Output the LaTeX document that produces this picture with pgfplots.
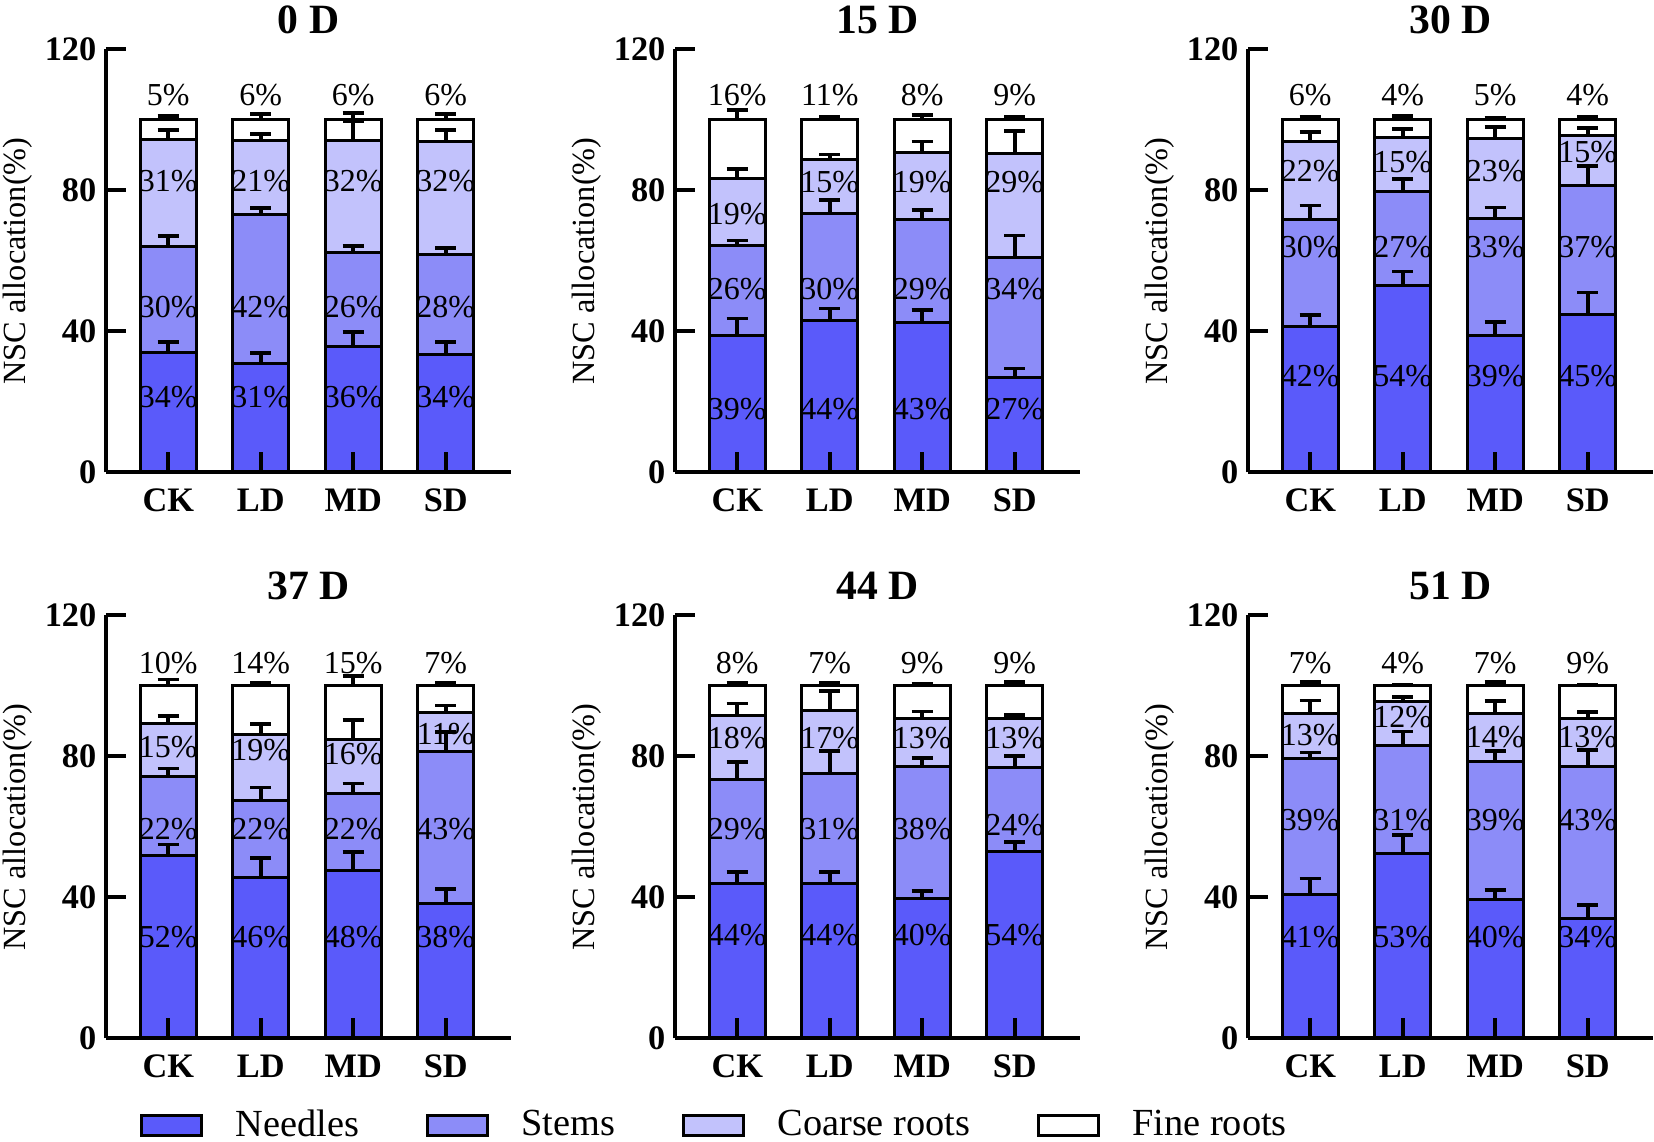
\documentclass[border=0pt]{standalone}
\usepackage{pgfplots}
\pgfplotsset{compat=1.18}
\usepackage{pgfplotstable}
\usepackage{fontspec}
\setmainfont{Liberation Serif}
\definecolor{needles}{HTML}{5A5AFA}
\definecolor{stems}{HTML}{8C8CF8}
\definecolor{coarse}{HTML}{C2C2FC}

% x n s c f = cumulative segment tops; en es ec ef = error bar caps;
% yn ys yc yf = label positions; tn ts tc tf = label texts
\pgfplotstableread{
x n s c f en es ec ef yn ys yc yf tn ts tc tf
0 33.9 64.0 94.6 100 37.0 67.1 97.1 101.2 21.5 46.8 82.6 107 34 30 31 5
1 31.0 73.1 94.1 100 33.9 75.0 96.0 101.7 21.5 46.8 82.6 107 31 42 21 6
2 35.8 62.4 94.3 100 39.8 64.2 99.6 101.9 21.5 46.8 82.6 107 36 26 32 6
3 33.4 61.8 93.9 100 37.0 63.7 97.1 101.7 21.5 46.8 82.6 107 34 28 32 6
}\tA
\pgfplotstableread{
x n s c f en es ec ef yn ys yc yf tn ts tc tf
0 38.8 64.5 83.4 100 43.7 65.8 86.1 102.8 18.0 52.0 73.3 107 39 26 19 16
1 43.2 73.6 88.9 100 46.5 77.3 90.2 100.8 18.0 52.0 82.3 107 44 30 15 11
2 42.6 71.9 90.8 100 46.1 74.5 93.9 101.4 18.0 52.0 82.3 107 43 29 19 8
3 27.0 61.0 90.6 100 29.5 67.2 96.8 100.8 18.0 52.0 82.3 107 27 34 29 9
}\tB
\pgfplotstableread{
x n s c f en es ec ef yn ys yc yf tn ts tc tf
0 41.3 71.9 93.9 100 44.7 75.7 96.5 101.0 27.4 63.9 85.6 107 42 30 22 6
1 53.0 79.8 95.1 100 57.0 83.3 97.4 101.2 27.4 63.9 88.0 107 54 27 15 4
2 38.8 72.1 94.8 100 42.6 75.2 98.1 100.5 27.4 63.9 85.6 107 39 33 23 5
3 44.7 81.4 95.7 100 51.1 87.0 97.7 100.8 27.4 63.9 90.8 107 45 37 15 4
}\tC
\pgfplotstableread{
x n s c f en es ec ef yn ys yc yf tn ts tc tf
0 52.0 74.2 89.3 100 55.0 76.6 91.4 101.8 28.8 59.5 82.7 106.5 52 22 15 10
1 45.6 67.4 86.3 100 51.2 71.2 89.3 100.9 28.8 59.5 81.8 106.5 46 22 19 14
2 47.7 69.5 84.9 100 52.9 72.3 90.3 102.8 28.8 59.5 80.8 106.5 48 22 16 15
3 38.3 81.3 92.6 100 42.5 87.0 94.5 100.9 28.8 59.5 86.5 106.5 38 43 11 7
}\tD
\pgfplotstableread{
x n s c f en es ec ef yn ys yc yf tn ts tc tf
0 44.0 73.4 91.5 100 47.3 78.4 95.0 100.9 29.3 59.5 85.1 106.5 44 29 18 8
1 44.0 75.3 93.1 100 47.3 81.5 98.5 100.9 29.3 59.5 85.1 106.5 44 31 17 7
2 39.7 77.3 90.9 100 41.8 79.6 92.8 100.5 29.3 59.5 85.1 106.5 40 38 13 9
3 53.1 76.8 90.7 100 55.8 80.2 91.7 101.1 29.3 60.5 85.1 106.5 54 24 13 9
}\tE
\pgfplotstableread{
x n s c f en es ec ef yn ys yc yf tn ts tc tf
0 40.8 79.4 92.2 100 45.4 81.1 95.9 101.1 28.8 61.9 86.0 106.5 41 39 13 7
1 52.5 83.0 95.7 100 57.7 87.1 96.9 100.4 28.8 61.9 91.2 106.5 53 31 12 4
2 39.5 78.7 92.2 100 42.2 81.6 95.7 101.1 28.8 61.9 85.5 106.5 40 39 14 7
3 34.0 77.3 90.7 100 37.8 81.8 92.6 100.4 28.8 61.9 85.5 106.5 34 43 13 9
}\tF

\pgfplotsset{
  panel/.style={
    scale only axis, width=121.5pt, height=126.9pt,
    anchor=south west,
    xmin=-0.674, xmax=3.706, ymin=0, ymax=120,
    axis x line*=bottom, axis y line*=left,
    axis line style={line width=1.2pt, -},
    xtick={0,1,2,3}, xticklabels={CK,LD,MD,SD},
    ytick={0,40,80,120},
    tick align=inside, major tick length=6pt,
    tick style={line width=1.2pt, black},
    axis on top,
    clip=false,
    /pgf/number format/assume math mode=true,
    ticklabel style={font=\fontsize{10.3}{12}\selectfont\bfseries},
    yticklabel style={anchor=east, inner sep=0pt, xshift=-2.7pt},
    xticklabel style={anchor=center, inner sep=0pt, yshift=-8.3pt},
    ylabel={NSC allocation(\%)},
    every axis y label/.style={at={(axis description cs:0,0.5)}, xshift=-26.4pt, rotate=90, anchor=center, font=\fontsize{9.7}{11}\selectfont},
    every axis title/.style={at={(axis description cs:0.5,1)}, anchor=center, yshift=9pt, font=\fontsize{12.5}{14}\selectfont\bfseries},
  },
  segment/.style={ybar, bar width=0.61, bar shift=0pt, draw=black, line width=0.9pt, forget plot},
  errs/.style={draw=none, mark=none, forget plot,
    error bars/y dir=plus, error bars/y explicit,
    error bars/error mark=-,
    error bars/error bar style={draw=black, line width=1.1pt, solid},
    error bars/error mark options={rotate=90, draw=black, line width=1.1pt, mark size=3.2pt}},
  labs/.style={draw=none, mark=none, forget plot,
    nodes near coords={\pgfplotspointmeta\%}, point meta=explicit symbolic,
    nodes near coords style={anchor=center, inner sep=0pt, font=\fontsize{9.6}{11}\selectfont, text=black}},
  legimg/.style={legend image code/.code={\draw[#1, draw=black, line width=0.9pt] (0pt,-2.9pt) rectangle (18pt,3.1pt);}},
}

\newcommand\panel[5]{%
\begin{axis}[panel, at={(#2)}, title={#3}, #4]
  \addplot[segment, fill=white] table[x=x, y=f]{#1};
  \addplot[segment, fill=coarse] table[x=x, y=c]{#1};
  \addplot[segment, fill=stems] table[x=x, y=s]{#1};
  \addplot[segment, fill=needles] table[x=x, y=n]{#1};
  \addplot[errs] table[x=x, y=n, y error expr=\thisrow{en}-\thisrow{n}]{#1};
  \addplot[errs] table[x=x, y=s, y error expr=\thisrow{es}-\thisrow{s}]{#1};
  \addplot[errs] table[x=x, y=c, y error expr=\thisrow{ec}-\thisrow{c}]{#1};
  \addplot[errs] table[x=x, y=f, y error expr=\thisrow{ef}-\thisrow{f}]{#1};
  \addplot[labs] table[x=x, y=yn, meta=tn]{#1};
  \addplot[labs] table[x=x, y=ys, meta=ts]{#1};
  \addplot[labs] table[x=x, y=yc, meta=tc]{#1};
  \addplot[labs] table[x=x, y=yf, meta=tf]{#1};
  #5
\end{axis}}

\begin{document}
\begin{tikzpicture}
\path[use as bounding box] (0pt,0pt) rectangle (496.2pt,342.6pt);
\panel{\tA}{31.8pt,200.85pt}{0 D}{}{}
\panel{\tB}{202.5pt,200.85pt}{15 D}{}{}
\panel{\tC}{374.4pt,200.85pt}{30 D}{}{}
\panel{\tD}{31.8pt,31.05pt}{37 D}{legimg, legend columns=4,
  legend style={at={(axis description cs:0,0)}, anchor=west, xshift=10pt, yshift=-26.1pt,
    draw=none, fill=none, inner sep=0pt, font=\fontsize{11.5}{13.5}\selectfont,
    nodes={inner sep=0pt},
    /tikz/every odd column/.append style={column sep=9.8pt},
    /tikz/every even column/.append style={column sep=20pt}}}{%
  \addlegendimage{fill=needles}\addlegendentry{Needles}
  \addlegendimage{fill=stems}\addlegendentry{Stems}
  \addlegendimage{fill=coarse}\addlegendentry{Coarse roots}
  \addlegendimage{fill=white}\addlegendentry{Fine roots}}
\panel{\tE}{202.5pt,31.05pt}{44 D}{}{}
\panel{\tF}{374.4pt,31.05pt}{51 D}{}{}
\end{tikzpicture}
\end{document}
